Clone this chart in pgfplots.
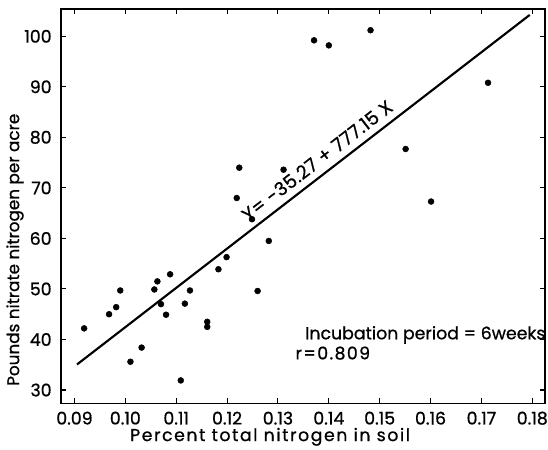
\documentclass[border=0pt]{standalone}
\usepackage{fontspec}
\setmainfont{Poppins}[UprightFeatures={FakeBold=0.8}]
\usepackage{pgfplots}
\pgfplotsset{compat=1.18}

\begin{document}
\fontsize{13}{15}\selectfont
\begin{tikzpicture}
\begin{axis}[
  name=ax,
  scale only axis,
  width=363pt, height=296pt,
  xmin=0.08735, xmax=0.1825,
  ymin=27.3, ymax=105.4,
  xtick={0.09,0.10,0.11,0.12,0.13,0.14,0.15,0.16,0.17,0.18},
  xticklabels={0.09,0.10,0.11,0.12,0.13,0.14,0.15,0.16,0.17,0.18},
  ytick={30,40,50,60,70,80,90,100},
  yticklabels={30,40,50,60,70,80,90,100},
  /pgf/number format/assume math mode=true,
  tick align=inside,
  major tick length=4pt,
  tick style={black, line width=0.8pt},
  axis line style={line width=1.2pt},
  xticklabel style={yshift=-1.5pt},
  yticklabel style={xshift=-2.5pt},
  xlabel={\addfontfeatures{LetterSpace=9}Percent total nitrogen in soil},
  ylabel={\fontsize{12.6}{15}\selectfont Pounds nitrate nitrogen per acre},
  xlabel style={at={(axis description cs:0.432,-0.084)}, anchor=center},
  ylabel style={at={(axis description cs:-0.095,0.39)}, anchor=center},
  clip=false,
]
% observations
\addplot[only marks, mark=*, mark size=2.2pt, black] coordinates {
  (0.0919,42.2) (0.0968,45.0) (0.0982,46.4) (0.0990,49.7)
  (0.1010,35.6) (0.1032,38.4) (0.1057,49.9) (0.1063,51.5)
  (0.1070,47.0) (0.1080,44.9) (0.1088,52.9) (0.1109,31.9)
  (0.1117,47.1) (0.1127,49.7) (0.1161,43.5) (0.1161,42.5)
  (0.1183,53.9) (0.1199,56.3) (0.1219,68.0) (0.1224,74.0)
  (0.1249,63.8) (0.1260,49.6) (0.1282,59.5) (0.1311,73.6)
  (0.1371,99.2) (0.1400,98.2) (0.1482,101.2) (0.1551,77.7)
  (0.1601,67.3) (0.1713,90.8)};

% regression line
\addplot[black, line width=1.6pt] coordinates {(0.0905,35.06) (0.1795,104.23)}
  node[pos=0.55, sloped, above, inner sep=5pt]
  {\fontsize{14}{16}\selectfont\addfontfeatures{LetterSpace=2}Y= -35.27 + 777.15 X};

\node[anchor=west, inner sep=0pt] at (axis cs:0.1353,40.9) {Incubation period = 6weeks};
\node[anchor=west, inner sep=0pt] at (axis cs:0.1334,37.3) {\addfontfeatures{LetterSpace=8}r=0.809};
\end{axis}
\pgfresetboundingbox
\path ([shift={(-45.75pt,-34.5pt)}]ax.south west) rectangle ([shift={(2.25pt,6.75pt)}]ax.north east);
\end{tikzpicture}
\end{document}
